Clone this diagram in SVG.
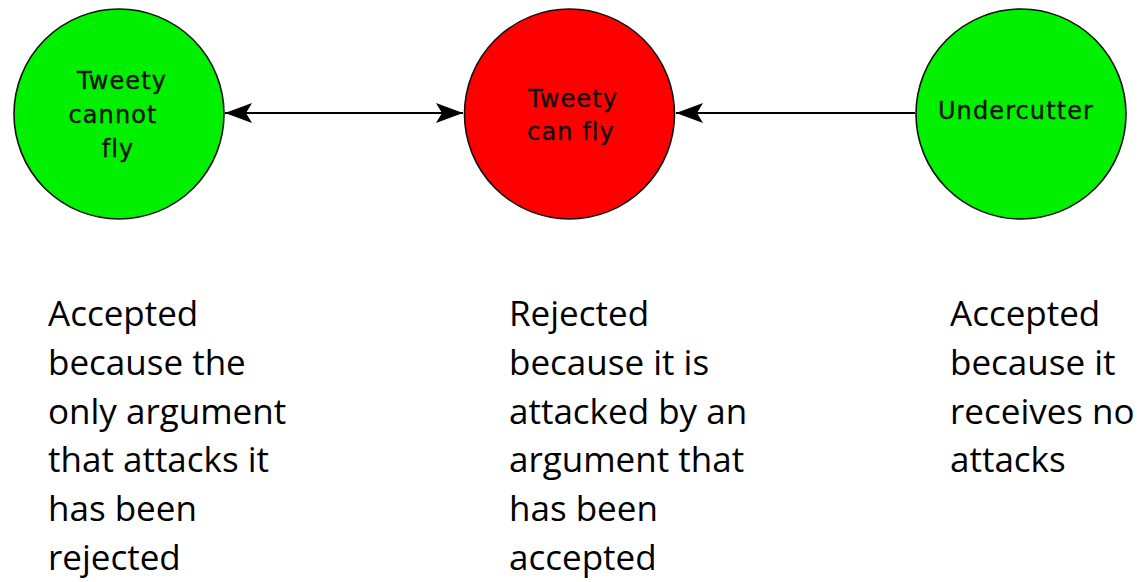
<svg xmlns="http://www.w3.org/2000/svg" width="1142" height="582" viewBox="0 0 1142 582">
  <style>
    .arg { stroke: #111; stroke-width: 1.6; }
    .accepted { fill: #00f000; }
    .rejected { fill: #ff0000; }
    .label { font-family: "DejaVu Sans", Verdana, sans-serif; font-size: 24px; letter-spacing: 1.1px; fill: #111; stroke: #111; stroke-width: 0.35; text-anchor: middle; }
    .note { font-family: "Open Sans", "Noto Sans", sans-serif; font-size: 35px; fill: #000; }
    .attack { stroke: #000; stroke-width: 1.8; fill: none; }
  </style>
  <defs>
    <marker id="head" viewBox="-28 -11 29 22" refX="0" refY="0" markerWidth="29" markerHeight="22" markerUnits="userSpaceOnUse" orient="auto-start-reverse">
      <path d="M0,0 L-27,-10 L-21,0 L-27,10 Z" fill="#000"/>
    </marker>
  </defs>

  <!-- attack relations -->
  <g id="connectors">
    <line class="attack" x1="225" y1="113" x2="463" y2="113" marker-start="url(#head)" marker-end="url(#head)"/>
    <line class="attack" x1="915" y1="113" x2="676" y2="113" marker-end="url(#head)"/>
  </g>

  <g id="tweety-cannot-fly">
    <circle class="arg accepted" cx="119" cy="114" r="105"/>
    <text class="label"><tspan x="122" y="89">Tweety</tspan><tspan x="113" y="123">cannot</tspan><tspan x="118" y="157">fly</tspan></text>
  </g>

  <g id="tweety-can-fly">
    <circle class="arg rejected" cx="569.5" cy="114" r="105"/>
    <text class="label"><tspan x="573" y="107">Tweety</tspan><tspan x="571" y="140">can fly</tspan></text>
  </g>

  <g id="undercutter">
    <circle class="arg accepted" cx="1021" cy="114" r="105"/>
    <text class="label" x="1016" y="119">Undercutter</text>
  </g>

  <!-- status explanations -->
  <g id="note-cannot-fly">
    <text class="note"><tspan x="48" y="326">Accepted</tspan><tspan x="48" y="375">because the</tspan><tspan x="48" y="424">only argument</tspan><tspan x="48" y="472">that attacks it</tspan><tspan x="48" y="521">has been</tspan><tspan x="48" y="570">rejected</tspan></text>
  </g>
  <g id="note-can-fly">
    <text class="note"><tspan x="509" y="326">Rejected</tspan><tspan x="509" y="375">because it is</tspan><tspan x="509" y="424">attacked by an</tspan><tspan x="509" y="472">argument that</tspan><tspan x="509" y="521">has been</tspan><tspan x="509" y="570">accepted</tspan></text>
  </g>
  <g id="note-undercutter">
    <text class="note"><tspan x="950" y="326">Accepted</tspan><tspan x="950" y="375">because it</tspan><tspan x="950" y="424">receives no</tspan><tspan x="950" y="472">attacks</tspan></text>
  </g>
</svg>
